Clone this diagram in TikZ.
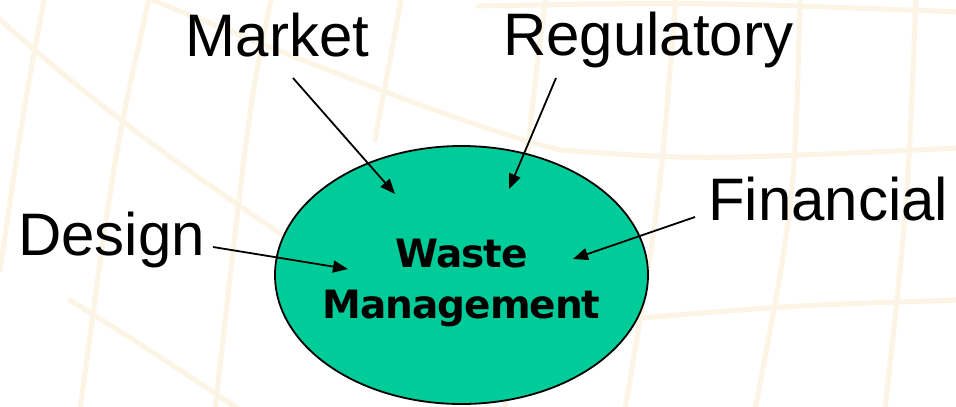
\documentclass[tikz,border=0pt]{standalone}
\usepackage{fontspec}
\setmainfont{Liberation Sans}
\newfontfamily\wmfont[LetterSpace=-2.6]{DejaVu Sans}
\usetikzlibrary{arrows.meta,shapes.geometric}
\definecolor{bgline}{RGB}{252,245,230}
\definecolor{wmfill}{RGB}{0,204,153}
\tikzset{
  bgstroke/.style={draw=bgline, line width=5pt, line cap=round},
  label/.style={inner sep=0pt, anchor=base west, font=\fontsize{60}{60}\selectfont},
  centre/.style={inner sep=0pt, anchor=base, font=\wmfont\bfseries\fontsize{39}{39}\selectfont},
  arr/.style={draw=black, line width=1.8pt, -{Triangle[length=15pt,width=12pt]}},
  blob/.style={ellipse, draw=black, line width=1.8pt, fill=wmfill, minimum width=373pt, minimum height=258pt, inner sep=0pt}
}
\begin{document}
\begin{tikzpicture}[x=1pt,y=-1pt]
\useasboundingbox (0,0) rectangle (956,407);
\fill[white] (0,0) rectangle (956,407);
% faint background mesh
\begin{scope}
\clip (0,0) rectangle (956,407);
\draw[bgstroke] (45,-5) .. controls (25,100) .. (0,270);
\draw[bgstroke] (150,-5) .. controls (115,150) .. (80,410);
\draw[bgstroke] (272,-5) .. controls (250,100) .. (215,410);
\draw[bgstroke] (402,-5) -- (375,140);
\draw[bgstroke] (546,-5) .. controls (530,120) .. (505,410);
\draw[bgstroke] (676,-5) .. controls (660,200) .. (625,410);
\draw[bgstroke] (800,-5) .. controls (795,200) .. (755,410);
\draw[bgstroke] (916,-5) .. controls (908,200) .. (885,410);
\draw[bgstroke] (478,6) .. controls (700,2) .. (960,12);
\draw[bgstroke] (140,-5) .. controls (350,80) and (480,130) .. (560,150) .. controls (700,160) .. (960,148);
\draw[bgstroke] (-5,15) .. controls (100,110) and (200,180) .. (290,240);
\draw[bgstroke] (640,318) .. controls (800,305) .. (960,300);
\draw[bgstroke] (70,300) .. controls (150,350) .. (240,410);
\end{scope}
% main ellipse
\node[blob] (wm) at (461.5,275) {};
\node[centre] (waste) at (461.5,267) {Waste};
\node[centre] (mgmt) at (461.5,318) {Management};
% labels
\node[label] (market) at (185.5,56) {Market};
\node[label] (reg) at (503,55) {Regulatory};
\node[label] (design) at (18,255) {Design};
\node[label] (fin) at (708,220) {Financial};
% connector ends
\coordinate (mks) at (293,78);
\coordinate (mke) at (395,194);
\coordinate (rgs) at (556,78);
\coordinate (rge) at (509,189);
\coordinate (dss) at (213,247);
\coordinate (dse) at (348,269);
\coordinate (fns) at (695,217);
\coordinate (fne) at (573,259);
\draw[arr] (mks) -- (mke);
\draw[arr] (rgs) -- (rge);
\draw[arr] (dss) -- (dse);
\draw[arr] (fns) -- (fne);
\end{tikzpicture}
\end{document}
